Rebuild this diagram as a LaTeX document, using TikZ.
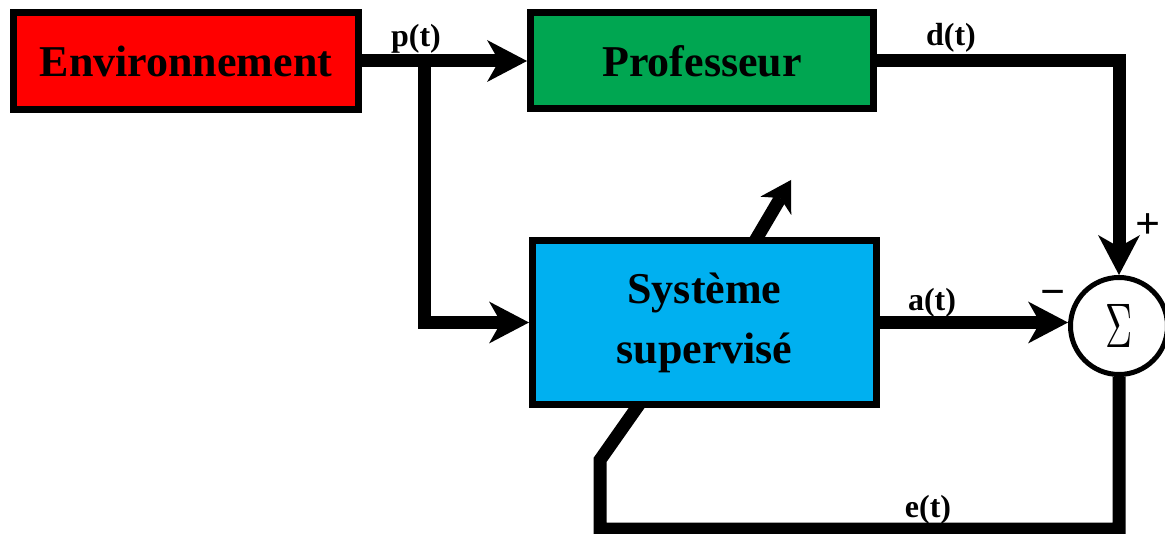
\documentclass[tikz,border=0pt]{standalone}
\usepackage{fontspec}
\usepackage{graphicx}
\setmainfont{Liberation Serif}
\usetikzlibrary{arrows.meta,backgrounds}
\definecolor{envred}{RGB}{255,0,0}
\definecolor{profgreen}{RGB}{0,166,81}
\definecolor{sysblue}{RGB}{0,176,240}
\begin{document}
\begin{tikzpicture}[x=1pt,y=-1pt,
  box/.style={draw=black, line width=7pt, rectangle, align=center, inner sep=0pt,
    font=\fontsize{44}{56}\selectfont\bfseries},
  conn/.style={line width=13pt, line join=miter},
  arr/.style={conn, -{Stealth[length=40pt,width=42pt,inset=12pt,line width=0pt]}},
  smallarr/.style={conn, -{Stealth[length=30pt,width=36pt,inset=9pt,line width=0pt]}},
  lbl/.style={inner sep=0pt, font=\fontsize{32}{32}\selectfont\bfseries},
  sign/.style={inner sep=0pt, font=\fontsize{44}{44}\selectfont\bfseries}]
\useasboundingbox (0,0) rectangle (1165,534);

% blocks
\node[box, fill=envred, minimum width=345pt, minimum height=97pt] (env) at (186,61) {Environnement};
\node[box, fill=profgreen, minimum width=343pt, minimum height=96pt] (prof) at (702,61) {Professeur};
\node[box, fill=sysblue, minimum width=344pt, minimum height=164pt] (sys) at (704.5,322.5) {Système\\[4pt]supervisé};
\node[circle, draw=black, fill=white, line width=5pt, minimum size=97pt, inner sep=0pt] (sum) at (1119,326)
  {\scalebox{3.75}[6.3]{$\Sigma$}};

% helper coordinates
\coordinate (split) at (424,61);
\coordinate (e1) at (600,529);
\coordinate (e2) at (600,460);
\coordinate (fb) at (645,396);
\coordinate (u0) at (745,258);
\coordinate (u1) at (791,180);

% connectors
\draw[arr] (env.east) -- (prof.west);
\draw[arr] (split) |- (sys.west);
\draw[arr] (prof.east) -| (sum.north);
\draw[arr] (sys.east) -- (sys.east -| sum.west);
\begin{scope}[on background layer]
  \draw[conn] (sum.south) |- (e1) -- (e2) -- (fb);
  \draw[smallarr] (u0) -- (u1);
\end{scope}

% labels
\node[lbl] (lp) at (416,39) {p(t)};
\node[lbl] (ld) at (951,38) {d(t)};
\node[lbl] (la) at (932,303) {a(t)};
\node[lbl] (le) at (928,510) {e(t)};
\node[sign] (plus) at (1148,226) {+};
\node[sign] (minus) at (1053,298) {−};
\end{tikzpicture}
\end{document}
